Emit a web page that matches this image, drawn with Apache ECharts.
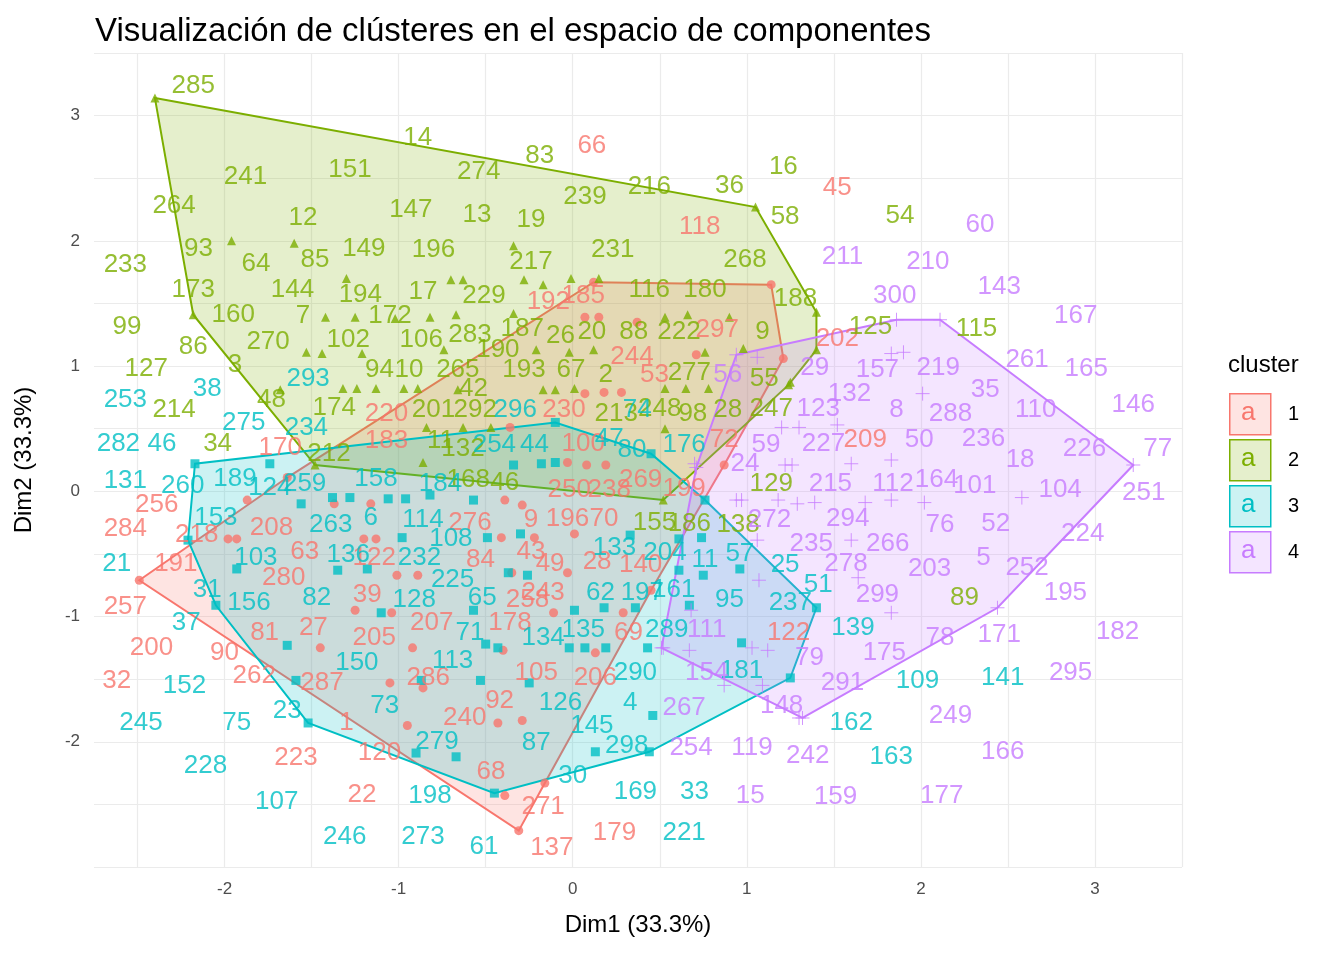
<!DOCTYPE html>
<html>
<head>
<meta charset="utf-8">
<script src="https://cdn.jsdelivr.net/npm/echarts@6/dist/echarts.min.js"></script>
<style>
  html, body { margin: 0; padding: 0; background: #fff; }
  #chart { width: 1344px; height: 960px; }
</style>
</head>
<body>
<div id="chart"></div>
<script>
var colors = ['#F8766D', '#7CAE00', '#00BFC4', '#C77CFF'];
var clusterNames = ['1', '2', '3', '4'];

// convex hulls, [Dim1, Dim2]
var hull1 = [[-2.49,-0.71],[-1.64,0.11],[0.12,1.67],[1.14,1.65],[1.21,1.06],[0.87,0.21],[0.45,-0.79],[-0.16,-2.33],[-0.31,-2.71]];
var hull2 = [[-2.40,3.14],[1.05,2.27],[1.40,1.43],[1.40,1.13],[1.24,0.85],[0.52,-0.07],[-1.48,0.21],[-2.18,1.41]];
var hull3 = [[-2.17,0.22],[-2.21,-0.39],[-2.05,-0.91],[-1.52,-1.85],[-0.45,-2.41],[0.44,-2.08],[1.25,-1.49],[1.40,-0.93],[0.76,-0.07],[0.45,0.30],[-0.10,0.55]];
var hull4 = [[0.94,1.09],[1.86,1.37],[2.11,1.37],[3.22,0.21],[2.44,-0.93],[1.32,-1.81],[0.51,-1.25],[0.71,0.19]];

// interior points
var pts1 = [[-1.87,-0.07],[-1.98,-0.38],[-1.93,-0.38],[-1.37,-0.10],[-1.16,-0.10],[-1.20,-0.38],[-1.13,-0.38],[-1.01,-0.67],[-0.89,-0.67],[-1.25,-0.95],[-1.04,-0.97],[-1.45,-1.25],[-0.92,-1.25],[-1.05,-1.53],[-0.86,-1.57],[-0.95,-1.87],[-0.43,-1.85],[-0.29,-1.83],[-0.41,-0.37],[-0.35,-0.65],[-0.40,-1.27],[-0.39,-0.07],[-0.29,-0.11],[-0.22,-0.37],[-0.03,-0.65],[-0.11,-0.97],[0.01,-0.34],[0.13,-1.29],[0.29,-0.97],[0.08,0.21],[0.19,0.21],[-0.03,0.23],[-0.39,-2.43],[0.07,1.39],[0.15,1.39],[0.07,0.78],[0.18,0.79],[0.28,0.79],[-0.36,0.51],[0.37,1.35],[0.71,1.09]];
var pts2 = [[-1.96,2.00],[-1.60,1.98],[-1.30,1.70],[-1.42,1.39],[-1.25,1.39],[-1.02,1.38],[-0.82,1.39],[-0.70,1.69],[-0.63,1.69],[-0.67,1.41],[-0.34,1.96],[-0.28,1.69],[-0.17,1.65],[-0.01,1.70],[0.15,1.70],[-0.34,1.42],[-0.21,1.13],[-0.02,1.11],[0.12,1.13],[-1.53,1.11],[-1.44,1.10],[-1.21,1.10],[-0.74,1.13],[-1.68,0.81],[-1.32,0.82],[-1.24,0.82],[-1.13,0.82],[-0.97,0.82],[-0.89,0.82],[-0.66,0.81],[-0.17,0.81],[-0.10,0.81],[0.01,0.82],[-0.84,0.51],[-0.63,0.51],[-0.47,0.51],[-0.86,0.23],[0.53,1.39],[0.66,1.41],[0.90,1.39],[0.76,1.11],[0.98,1.14],[0.53,0.82],[0.65,0.82],[0.78,0.82],[0.53,0.50],[1.25,0.87]];
var pts3 = [[-1.74,0.22],[-1.56,-0.10],[-1.38,-0.05],[-1.28,-0.05],[-1.06,-0.06],[-0.96,-0.06],[-0.82,-0.03],[-0.57,-0.07],[-1.93,-0.62],[-1.35,-0.63],[-1.18,-0.62],[-0.98,-0.37],[-0.49,-0.37],[-0.30,-0.34],[-0.37,-0.65],[-0.26,-0.67],[-1.10,-0.97],[-0.57,-0.95],[0.01,-0.95],[0.18,-0.93],[-1.64,-1.23],[-0.50,-1.22],[-0.43,-1.25],[-0.02,-1.25],[0.07,-1.25],[0.19,-1.25],[-0.87,-1.51],[-0.53,-1.51],[-0.25,-1.53],[-1.59,-1.51],[-0.90,-2.09],[-0.67,-2.12],[0.13,-2.08],[-0.34,0.21],[-0.18,0.22],[-0.10,0.23],[0.61,-0.63],[0.75,-0.67],[0.96,-0.62],[0.67,-0.91],[0.97,-1.21],[0.36,-0.93],[0.43,-1.25],[0.46,-1.79],[0.74,-0.37],[0.61,-0.38],[0.33,-0.35]];
var pts4 = [[1.06,1.07],[1.90,1.11],[1.83,1.10],[2.01,0.78],[1.20,0.51],[1.30,0.51],[1.52,0.53],[0.70,0.22],[1.22,0.21],[1.26,0.21],[1.60,0.22],[1.83,0.25],[0.94,-0.07],[0.97,-0.07],[1.18,-0.07],[1.29,-0.10],[1.39,-0.09],[1.68,-0.09],[1.83,-0.07],[2.02,-0.09],[2.58,-0.05],[1.06,-0.39],[1.60,-0.39],[0.68,-0.95],[1.07,-0.71],[1.64,-0.69],[1.83,-0.97],[0.52,-1.25],[0.67,-1.27],[1.03,-1.25],[1.12,-1.27],[0.87,-1.55],[1.09,-1.55],[1.30,-1.81]];

// repelled labels, [Dim1, Dim2, name]
var lab1 = [[0.11,2.76,'66'],[1.52,2.42,'45'],[0.73,2.11,'118'],[-0.14,1.51,'192'],[0.06,1.56,'185'],[0.83,1.29,'297'],[1.52,1.22,'202'],[0.34,1.07,'244'],[0.47,0.93,'53'],[-1.07,0.62,'220'],[-0.05,0.65,'230'],[-1.07,0.40,'183'],[-1.68,0.35,'170'],[0.06,0.38,'100'],[0.87,0.41,'72'],[1.68,0.41,'209'],[0.39,0.09,'269'],[0.64,0.02,'199'],[-0.02,0.01,'250'],[0.21,0.01,'238'],[-2.39,-0.11,'256'],[-0.24,-0.23,'9'],[-0.03,-0.22,'196'],[0.18,-0.22,'70'],[-0.59,-0.25,'276'],[-2.57,-0.30,'284'],[-1.73,-0.29,'208'],[-2.16,-0.35,'218'],[-1.54,-0.48,'63'],[-1.14,-0.53,'122'],[-0.24,-0.48,'43'],[-2.28,-0.58,'191'],[-0.53,-0.55,'84'],[-0.13,-0.58,'49'],[0.14,-0.56,'28'],[0.39,-0.59,'140'],[-1.66,-0.69,'280'],[-1.18,-0.83,'39'],[-0.17,-0.81,'243'],[-0.26,-0.87,'258'],[-2.57,-0.92,'257'],[-1.77,-1.13,'81'],[-1.49,-1.09,'27'],[-1.14,-1.17,'205'],[-0.81,-1.05,'207'],[-0.36,-1.05,'178'],[-2.42,-1.25,'200'],[-2.00,-1.29,'90'],[0.32,-1.13,'69'],[1.24,-1.13,'122'],[-1.83,-1.47,'262'],[-1.44,-1.53,'287'],[-0.83,-1.49,'286'],[-0.21,-1.45,'105'],[0.13,-1.49,'206'],[-2.62,-1.51,'32'],[-0.42,-1.67,'92'],[-1.30,-1.85,'1'],[-0.62,-1.81,'240'],[-1.11,-2.09,'120'],[-1.59,-2.13,'223'],[-0.47,-2.24,'68'],[-1.21,-2.42,'22'],[-0.17,-2.52,'271'],[0.24,-2.73,'179'],[-0.12,-2.85,'137']];
var lab2 = [[-2.18,3.24,'285'],[-0.89,2.82,'14'],[-0.19,2.68,'83'],[-0.54,2.55,'274'],[-1.88,2.51,'241'],[-1.28,2.57,'151'],[1.21,2.59,'16'],[0.90,2.44,'36'],[0.44,2.43,'216'],[0.07,2.35,'239'],[-2.29,2.28,'264'],[-0.93,2.25,'147'],[-0.55,2.21,'13'],[-0.24,2.17,'19'],[1.22,2.19,'58'],[1.88,2.20,'54'],[-1.55,2.18,'12'],[-2.15,1.94,'93'],[-1.82,1.82,'64'],[-1.48,1.85,'85'],[-1.20,1.94,'149'],[-0.80,1.93,'196'],[0.23,1.93,'231'],[-0.24,1.83,'217'],[-2.57,1.81,'233'],[0.99,1.85,'268'],[-2.18,1.61,'173'],[-1.61,1.61,'144'],[-1.22,1.57,'194'],[-0.86,1.59,'17'],[-0.51,1.56,'229'],[0.44,1.61,'116'],[0.76,1.61,'180'],[1.28,1.54,'188'],[-1.95,1.41,'160'],[-1.55,1.40,'7'],[-1.05,1.40,'172'],[-2.56,1.31,'99'],[-0.87,1.21,'106'],[-0.59,1.25,'283'],[-0.29,1.30,'187'],[-0.07,1.24,'26'],[0.11,1.27,'20'],[0.35,1.27,'88'],[0.61,1.27,'222'],[1.09,1.27,'9'],[1.71,1.31,'125'],[2.32,1.30,'115'],[-1.75,1.19,'270'],[-1.29,1.21,'102'],[-2.18,1.15,'86'],[-0.43,1.13,'190'],[-2.45,0.98,'127'],[-1.94,1.01,'3'],[-1.11,0.97,'94'],[-0.94,0.97,'10'],[-0.66,0.97,'265'],[-0.28,0.97,'193'],[-0.01,0.97,'67'],[0.19,0.93,'2'],[0.67,0.95,'277'],[1.10,0.90,'55'],[-0.57,0.82,'42'],[-1.73,0.73,'48'],[-1.37,0.67,'174'],[-2.29,0.65,'214'],[-0.80,0.65,'201'],[-0.56,0.65,'292'],[0.25,0.62,'213'],[0.50,0.66,'248'],[0.69,0.62,'98'],[0.89,0.65,'28'],[1.14,0.66,'247'],[-2.04,0.38,'34'],[-0.76,0.40,'11'],[-0.63,0.34,'132'],[-1.40,0.30,'212'],[-0.60,0.09,'168'],[-0.39,0.07,'46'],[1.14,0.06,'129'],[0.47,-0.25,'155'],[0.67,-0.26,'186'],[0.95,-0.27,'138'],[2.25,-0.85,'89']];
var lab3 = [[-2.10,0.82,'38'],[-2.57,0.73,'253'],[-1.52,0.90,'293'],[-1.89,0.55,'275'],[-1.53,0.51,'234'],[-2.61,0.38,'282'],[-2.36,0.38,'46'],[-0.45,0.37,'254'],[-0.22,0.37,'44'],[0.21,0.42,'47'],[0.34,0.33,'80'],[0.64,0.37,'176'],[-0.33,0.65,'296'],[0.37,0.65,'74'],[-2.57,0.08,'131'],[-2.24,0.04,'260'],[-1.94,0.10,'189'],[-1.74,0.03,'124'],[-1.54,0.06,'259'],[-1.13,0.10,'158'],[-0.76,0.06,'184'],[-2.05,-0.21,'153'],[-1.39,-0.27,'263'],[-1.16,-0.21,'6'],[-0.86,-0.23,'114'],[-0.70,-0.38,'108'],[0.24,-0.45,'133'],[0.53,-0.49,'204'],[0.76,-0.55,'11'],[0.96,-0.50,'57'],[-2.62,-0.58,'21'],[-1.82,-0.53,'103'],[-1.29,-0.51,'136'],[-0.88,-0.53,'232'],[-0.69,-0.71,'225'],[1.22,-0.59,'25'],[0.16,-0.81,'62'],[0.40,-0.81,'197'],[0.58,-0.79,'161'],[1.41,-0.75,'51'],[-2.10,-0.79,'31'],[-1.86,-0.89,'156'],[-1.47,-0.85,'82'],[-0.91,-0.87,'128'],[-0.52,-0.85,'65'],[0.90,-0.87,'95'],[1.25,-0.89,'237'],[-2.22,-1.05,'37'],[-0.59,-1.13,'71'],[-0.17,-1.17,'134'],[0.06,-1.11,'135'],[0.54,-1.11,'289'],[1.61,-1.09,'139'],[-1.24,-1.37,'150'],[-0.69,-1.35,'113'],[0.36,-1.45,'290'],[-2.23,-1.55,'152'],[0.97,-1.43,'181'],[1.98,-1.51,'109'],[2.47,-1.49,'141'],[-1.08,-1.71,'73'],[-0.07,-1.69,'126'],[0.33,-1.69,'4'],[-2.48,-1.85,'245'],[-1.93,-1.85,'75'],[-1.64,-1.75,'23'],[1.60,-1.85,'162'],[0.11,-1.87,'145'],[-0.78,-2.00,'279'],[-0.21,-2.01,'87'],[0.31,-2.03,'298'],[1.83,-2.12,'163'],[-2.11,-2.19,'228'],[0.00,-2.27,'30'],[0.36,-2.40,'169'],[0.70,-2.40,'33'],[-1.70,-2.48,'107'],[-0.82,-2.43,'198'],[-1.31,-2.76,'246'],[-0.86,-2.76,'273'],[0.64,-2.73,'221'],[-0.51,-2.84,'61']];
var lab4 = [[2.34,2.13,'60'],[1.55,1.87,'211'],[2.04,1.83,'210'],[2.45,1.63,'143'],[1.85,1.56,'300'],[2.89,1.40,'167'],[2.61,1.05,'261'],[2.95,0.98,'165'],[1.39,0.99,'29'],[1.75,0.97,'157'],[2.10,0.99,'219'],[0.89,0.93,'56'],[2.37,0.81,'35'],[1.59,0.78,'132'],[2.66,0.65,'110'],[3.22,0.69,'146'],[1.41,0.66,'123'],[1.86,0.65,'8'],[2.17,0.62,'288'],[2.94,0.34,'226'],[3.36,0.34,'77'],[1.11,0.37,'59'],[1.44,0.38,'227'],[1.99,0.41,'50'],[2.36,0.42,'236'],[0.99,0.22,'24'],[2.57,0.25,'18'],[1.48,0.06,'215'],[1.84,0.06,'112'],[2.09,0.09,'164'],[2.31,0.04,'101'],[2.80,0.01,'104'],[3.28,-0.01,'251'],[1.13,-0.23,'272'],[1.58,-0.22,'294'],[2.11,-0.27,'76'],[2.43,-0.26,'52'],[2.93,-0.34,'224'],[1.37,-0.42,'235'],[1.81,-0.42,'266'],[2.36,-0.53,'5'],[2.61,-0.61,'252'],[1.57,-0.58,'278'],[2.05,-0.62,'203'],[2.83,-0.81,'195'],[1.75,-0.83,'299'],[3.13,-1.12,'182'],[2.11,-1.17,'78'],[2.45,-1.15,'171'],[0.77,-1.11,'111'],[1.79,-1.29,'175'],[1.36,-1.33,'79'],[0.77,-1.45,'154'],[1.55,-1.53,'291'],[2.86,-1.45,'295'],[0.64,-1.73,'267'],[1.20,-1.71,'148'],[2.17,-1.79,'249'],[0.68,-2.05,'254'],[1.03,-2.05,'119'],[1.35,-2.11,'242'],[2.47,-2.08,'166'],[1.02,-2.43,'15'],[1.51,-2.44,'159'],[2.12,-2.43,'177']];

var hulls = [hull1, hull2, hull3, hull4];
var points = [pts1, pts2, pts3, pts4];
var labels = [lab1, lab2, lab3, lab4];
var symbols = ['circle', 'triangle', 'rect', 'path://M5,0L5,10M0,5L10,5'];
var font = 'Liberation Sans, Arial, sans-serif';

function fade(hex, a) {
  var n = parseInt(hex.slice(1), 16);
  return 'rgba(' + (n >> 16) + ',' + ((n >> 8) & 255) + ',' + (n & 255) + ',' + a + ')';
}

var series = [];
hulls.forEach(function (h, i) {
  series.push({
    type: 'custom',
    z: 1,
    silent: true,
    data: [0],
    renderItem: function (params, api) {
      return {
        type: 'polygon',
        shape: { points: h.map(function (p) { return api.coord(p); }) },
        style: { fill: fade(colors[i], 0.2), stroke: colors[i], lineWidth: 2 }
      };
    }
  });
});
points.forEach(function (p, i) {
  var isCross = i === 3;
  series.push({
    type: 'scatter',
    z: 3,
    symbol: symbols[i],
    symbolSize: isCross ? 14 : 9,
    itemStyle: isCross ? { color: 'none', borderColor: colors[i], borderWidth: 1 } : { color: colors[i] },
    data: p.concat(hulls[i])
  });
});
labels.forEach(function (l, i) {
  series.push({
    type: 'scatter',
    z: 4,
    symbolSize: 0,
    data: l,
    label: {
      show: true,
      position: 'inside',
      formatter: function (d) { return d.data[2]; },
      color: colors[i],
      fontSize: 26,
      fontFamily: font
    }
  });
});

var legendGraphics = [{
  type: 'text', left: 1228, top: 353,
  style: { text: 'cluster', font: '24px ' + font, fill: '#000' }
}];
colors.forEach(function (c, i) {
  var top = 393 + i * 46;
  legendGraphics.push({
    type: 'rect', left: 1229, top: top,
    shape: { width: 41, height: 41 },
    style: { fill: fade(c, 0.2), stroke: c, lineWidth: 1.5 }
  });
  legendGraphics.push({
    type: 'text', left: 1241, top: top + 7,
    style: { text: 'a', font: '26px ' + font, fill: c }
  });
  legendGraphics.push({
    type: 'text', left: 1288, top: top + 11,
    style: { text: clusterNames[i], font: '20px ' + font, fill: '#000' }
  });
});

var chart = echarts.init(document.getElementById('chart'));
chart.setOption({
  backgroundColor: '#fff',
  animation: false,
  title: {
    text: 'Visualización de clústeres en el espacio de componentes',
    left: 90, top: 10,
    textStyle: { fontSize: 33, fontWeight: 'normal', fontFamily: font, color: '#000' }
  },
  grid: { left: 94, right: 162, top: 53, bottom: 93 },
  xAxis: {
    type: 'value', min: -2.75, max: 3.5, interval: 0.25,
    name: 'Dim1 (33.3%)', nameLocation: 'middle', nameGap: 46,
    nameTextStyle: { fontSize: 24, fontFamily: font, color: '#000' },
    axisLine: { show: false, onZero: false },
    axisTick: { show: false },
    axisLabel: { fontSize: 17, fontFamily: font, color: '#4d4d4d', margin: 14,
      formatter: function (v) { return Math.abs(v % 1) < 1e-9 ? String(v) : ''; } },
    splitLine: { show: true, lineStyle: { color: ['rgba(0,0,0,0)', '#ebebeb'], width: 1.2 } }
  },
  yAxis: {
    type: 'value', min: -3, max: 3.5, interval: 0.5,
    name: 'Dim2 (33.3%)', nameLocation: 'middle', nameGap: 58,
    nameTextStyle: { fontSize: 24, fontFamily: font, color: '#000' },
    axisLine: { show: false, onZero: false },
    axisTick: { show: false },
    axisLabel: { fontSize: 17, fontFamily: font, color: '#4d4d4d', margin: 14,
      formatter: function (v) { return (Math.abs(v % 1) < 1e-9 && v > -3) ? String(v) : ''; } },
    splitLine: { show: true, lineStyle: { color: '#ebebeb', width: 1.2 } }
  },
  graphic: legendGraphics,
  series: series
});
</script>
</body>
</html>
